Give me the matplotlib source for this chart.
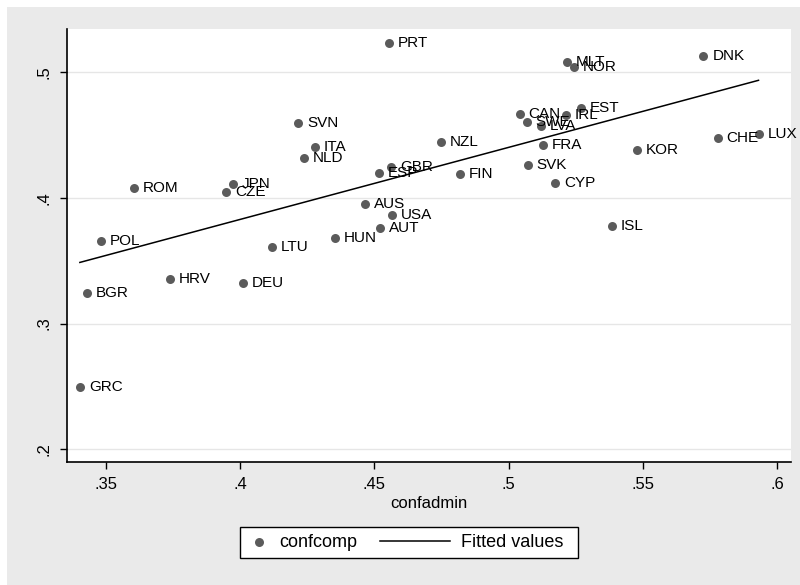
import numpy as np
import matplotlib.pyplot as plt
from matplotlib.patches import Rectangle

plt.rcParams["font.family"] = ["Liberation Sans", "DejaVu Sans"]

countries = ["PRT", "DNK", "MLT", "NOR", "CAN", "SWE", "LVA", "IRL", "EST",
             "FRA", "SVK", "CYP", "KOR", "CHE", "LUX", "ISL", "SVN", "ITA",
             "NLD", "NZL", "GBR", "ESP", "FIN", "AUS", "USA", "AUT", "HUN",
             "LTU", "JPN", "CZE", "ROM", "POL", "HRV", "DEU", "BGR", "GRC"]
confadmin = [0.4554, 0.5726, 0.5216, 0.5242, 0.5041, 0.5067, 0.5119, 0.5213,
             0.5268, 0.5127, 0.5071, 0.5172, 0.5477, 0.5779, 0.5931, 0.5384,
             0.4215, 0.4278, 0.4237, 0.4747, 0.4561, 0.4516, 0.4818, 0.4464,
             0.4567, 0.4520, 0.4353, 0.4118, 0.3973, 0.3947, 0.3604, 0.3481,
             0.3738, 0.4010, 0.3429, 0.3403]
confcomp = [0.5233, 0.5130, 0.5082, 0.5042, 0.4668, 0.4604, 0.4573, 0.4660,
            0.4716, 0.4421, 0.4262, 0.4119, 0.4382, 0.4478, 0.4509, 0.3778,
            0.4597, 0.4406, 0.4318, 0.4444, 0.4246, 0.4197, 0.4189, 0.3955,
            0.3864, 0.3761, 0.3681, 0.3610, 0.4111, 0.4048, 0.4080, 0.3658,
            0.3355, 0.3324, 0.3244, 0.2496]

x_ticks = [0.35, 0.40, 0.45, 0.50, 0.55, 0.60]
x_tick_labels = [".35", ".4", ".45", ".5", ".55", ".6"]
y_ticks = [0.2, 0.3, 0.4, 0.5]
y_tick_labels = [".2", ".3", ".4", ".5"]

x = np.array(confadmin)
y = np.array(confcomp)
slope, intercept = np.polyfit(x, y, 1)
x_fit = np.array([x.min(), x.max()])
y_fit = intercept + slope * x_fit

fig = plt.figure(figsize=(8, 5.85), dpi=100, facecolor="white")
# grey graph region behind the white plot area
fig.patches.append(Rectangle((7 / 800, 0), 1, 1 - 7 / 585, transform=fig.transFigure,
                             facecolor="#eaeaea", edgecolor="none", zorder=-10))

ax = fig.add_axes([0.0834, 0.2108, 0.905, 0.7391])
ax.set_facecolor("white")

pts = ax.scatter(x, y, s=42, color="#5b5b5b", zorder=3, linewidths=0)
for name, xi, yi in zip(countries, x, y):
    ax.annotate(name, (xi, yi), xytext=(6.5, 0), textcoords="offset points",
                va="center", ha="left", fontsize=11, color="black")
fit_line, = ax.plot(x_fit, y_fit, color="black", lw=1.1, zorder=2)

ax.set_xlim(0.3354, 0.6051)
ax.set_ylim(0.1901, 0.5342)
ax.set_xticks(x_ticks)
ax.set_xticklabels(x_tick_labels, fontsize=12)
ax.set_yticks(y_ticks)
ax.set_yticklabels(y_tick_labels, fontsize=12, rotation=90, va="center")
ax.tick_params(direction="out", length=5, width=1, color="black", pad=6)
ax.grid(axis="y", color="#e6e6e6", lw=1, zorder=0)
for side in ["top", "right"]:
    ax.spines[side].set_visible(False)
for side in ["left", "bottom"]:
    ax.spines[side].set_linewidth(1.2)
ax.set_xlabel("confadmin", fontsize=12, labelpad=3)

# legend: one frame holding two side-by-side entries
fig.patches.append(Rectangle((240 / 800, 1 - 558 / 585), 338 / 800, 31 / 585,
                             transform=fig.transFigure, facecolor="white",
                             edgecolor="black", lw=1, zorder=5))
leg_y = 1 - 542.5 / 585
leg1 = fig.legend([pts], ["confcomp"], loc="center left",
                  bbox_to_anchor=(249.7 / 800, leg_y), fontsize=13,
                  frameon=False, handlelength=1.0, handletextpad=0.65,
                  borderpad=0, borderaxespad=0)
leg2 = fig.legend([fit_line], ["Fitted values"], loc="center left",
                  bbox_to_anchor=(380 / 800, leg_y), fontsize=13,
                  frameon=False, handlelength=3.9, handletextpad=0.6,
                  borderpad=0, borderaxespad=0)
leg1.set_zorder(6)
leg2.set_zorder(6)

fig.savefig("out.png", dpi=100)
